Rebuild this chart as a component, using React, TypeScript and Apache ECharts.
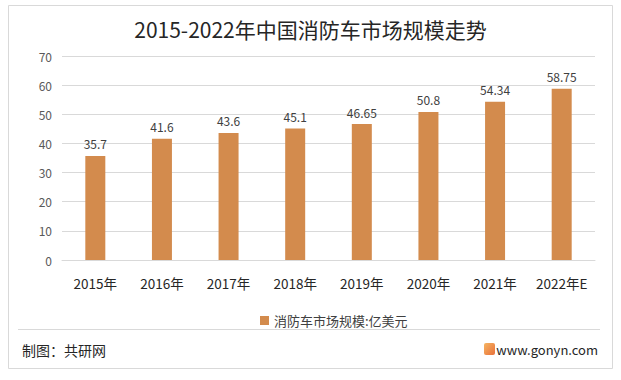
import React, { useEffect, useRef } from "react";
import * as echarts from "echarts";

const categories = ["2015年", "2016年", "2017年", "2018年", "2019年", "2020年", "2021年", "2022年E"];
const values = [35.7, 41.6, 43.6, 45.1, 46.65, 50.8, 54.34, 58.75];
const seriesName = "消防车市场规模:亿美元";
const titleText = "2015-2022年中国消防车市场规模走势";
const footerLeft = "制图：共研网";
const footerRight = "www.gonyn.com";

const FONT = "'Noto Sans CJK SC', 'Noto Sans', sans-serif";

export default function App() {
  const ref = useRef<HTMLDivElement>(null);
  useEffect(() => {
    if (!ref.current) return;
    const chart = echarts.init(ref.current, undefined, { renderer: "svg" });
    chart.setOption({
      animation: false,
      backgroundColor: "#ffffff",
      textStyle: { fontFamily: FONT },
      title: {
        text: titleText,
        left: "center",
        top: 13,
        textStyle: { fontSize: 21, fontWeight: "normal", color: "#262626", fontFamily: FONT },
      },
      grid: { left: 62, right: 26, top: 56, bottom: 120, containLabel: false },
      xAxis: {
        type: "category",
        data: categories,
        axisLine: { lineStyle: { color: "#d9d9d9" } },
        axisTick: { show: false },
        axisLabel: { color: "#262626", fontSize: 13.5, margin: 16, interval: 0, fontFamily: FONT },
      },
      yAxis: {
        type: "value",
        min: 0,
        max: 70,
        interval: 10,
        axisLine: { show: false },
        axisTick: { show: false },
        splitLine: { lineStyle: { color: "#d9d9d9" } },
        axisLabel: { color: "#595959", fontSize: 12, margin: 10, fontFamily: FONT },
      },
      legend: {
        data: [seriesName],
        top: 309,
        left: 255,
        icon: "rect",
        itemWidth: 9,
        itemHeight: 9,
        itemGap: 4,
        textStyle: { color: "#404040", fontSize: 13, fontFamily: FONT },
      },
      series: [
        {
          name: seriesName,
          type: "bar",
          data: values,
          barWidth: 20,
          itemStyle: { color: "#D38B4D" },
          label: {
            show: true,
            position: "top",
            distance: 6,
            color: "#404040",
            fontSize: 12,
            fontFamily: FONT,
          },
        },
      ],
      graphic: [
        {
          type: "rect",
          shape: { x: 8.5, y: 5.5, width: 604, height: 363 },
          style: { fill: "none", stroke: "#d9d9d9", lineWidth: 1 },
          silent: true,
        },
        {
          type: "line",
          shape: { x1: 18, y1: 329.5, x2: 600, y2: 329.5 },
          style: { stroke: "#d9d9d9", lineWidth: 1 },
          silent: true,
        },
        {
          type: "text",
          x: 22,
          y: 350,
          style: {
            text: footerLeft,
            fill: "#262626",
            fontSize: 14,
            fontFamily: FONT,
            verticalAlign: "middle",
          },
        },
        {
          type: "rect",
          shape: { x: 484, y: 343, width: 11, height: 12, r: 2 },
          style: {
            fill: new echarts.graphic.LinearGradient(0, 0, 1, 1, [
              { offset: 0, color: "#F5B562" },
              { offset: 1, color: "#E9703A" },
            ]),
          },
        },
        {
          type: "text",
          x: 598,
          y: 349,
          style: {
            text: footerRight,
            fill: "#262626",
            fontSize: 13,
            fontFamily: FONT,
            align: "right",
            verticalAlign: "middle",
          },
        },
      ],
    });
    return () => chart.dispose();
  }, []);
  return (
    <div
      ref={ref}
      style={{ position: "absolute", left: 0, top: 0, width: 621, height: 380 }}
    />
  );
}
